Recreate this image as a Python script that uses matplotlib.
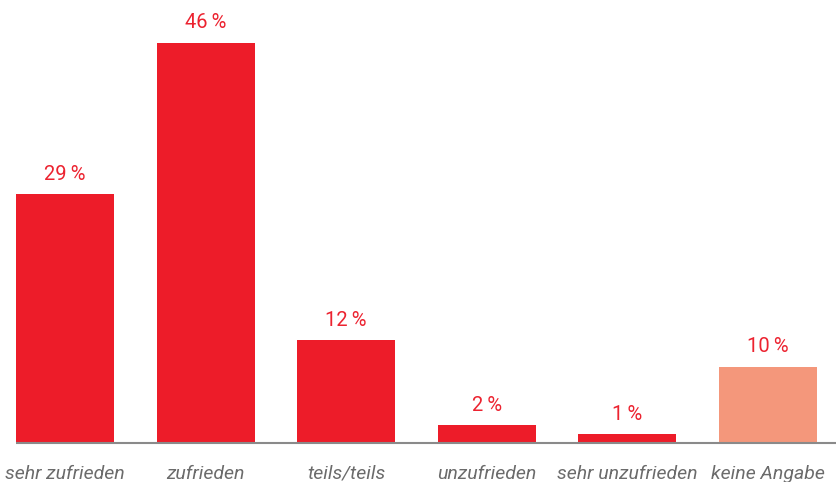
import matplotlib
matplotlib.use("Agg")
import matplotlib.pyplot as plt

categories = ["sehr zufrieden", "zufrieden", "teils/teils", "unzufrieden",
              "sehr unzufrieden", "keine Angabe"]
heights = [28.8, 46.4, 11.9, 2.0, 0.95, 8.8]
value_labels = ["29\u2009%", "46\u2009%", "12\u2009%", "2\u2009%", "1\u2009%", "10\u2009%"]
bar_colors = ["#ED1C29", "#ED1C29", "#ED1C29", "#ED1C29", "#ED1C29", "#F4977B"]

W, H = 837, 482
fig = plt.figure(figsize=(W / 100, H / 100), dpi=100)
base_px = 39.5
ax = fig.add_axes([0, base_px / H, 1, 1 - base_px / H])

x = list(range(len(categories)))
bars = ax.bar(x, heights, width=0.697, color=bar_colors, zorder=2)

ax.set_xlim(-0.462, 5.49)
ax.set_ylim(0, (H - base_px) / 8.62)

ax.plot([-0.3485, 5.49], [0, 0], color="#8a8a8a", lw=1.5, zorder=3,
        solid_capstyle="butt", clip_on=False)

for b, lab in zip(bars, value_labels):
    ax.annotate(lab, (b.get_x() + b.get_width() / 2, b.get_height()),
                xytext=(0, 7.5), textcoords="offset points", ha="center", va="bottom",
                fontsize=14.5, color="#EC2330", family=["Roboto", "DejaVu Sans"],
                fontweight="normal")

for xi, cat in zip(x, categories):
    ax.annotate(cat, (xi, 0), xytext=(0, -16), textcoords="offset points",
                ha="center", va="top", fontsize=14, color="#6b6b6b",
                style="italic", family=["Roboto", "DejaVu Sans"],
                fontweight="normal", annotation_clip=False)

ax.set_axis_off()
fig.savefig("out.png", dpi=100)
